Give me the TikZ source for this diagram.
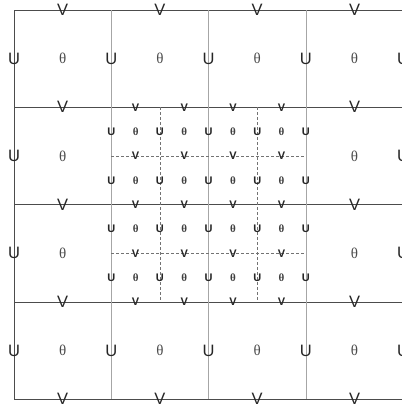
\documentclass[tikz,border=0pt]{standalone}
\usepackage{fontspec}
\setmainfont{Liberation Sans}
\newfontfamily\grk{Liberation Serif}
\usetikzlibrary{positioning}

\begin{document}
\begin{tikzpicture}[x=1pt,y=-1pt]
\tikzstyle{cu}=[inner sep=0pt,text=black!85,font=\fontsize{16.5}{17}\selectfont]
\tikzstyle{ct}=[inner sep=0pt,text=black!70,font=\grk\fontsize{15}{15}\selectfont]
\tikzstyle{fu}=[inner sep=0pt,text=black!85,font=\fontsize{11}{12}\selectfont\bfseries]
\tikzstyle{ft}=[inner sep=0pt,text=black!75,font=\grk\fontsize{11}{12}\selectfont\bfseries]
\def\cs{97.3} \def\fs{48.65}
\useasboundingbox (0,0) rectangle (402,408);
% coarse grid
\foreach \j in {0,...,4} \draw[black!70,line width=0.8pt] (14,{10+\cs*\j}) -- (402,{10+\cs*\j});
\draw[black!70,line width=0.8pt] (14,10) -- (14,{10+4*\cs});
\foreach \i in {1,2,3} \draw[black!35,line width=0.8pt] ({14+\cs*\i},10) -- ({14+\cs*\i},{10+4*\cs});
% refined block, dashed
\foreach \k in {1,3} {
  \draw[black!55,densely dashed,line width=0.4pt] ({14+\cs+\fs*\k},{10+\cs}) -- ({14+\cs+\fs*\k},{10+3*\cs});
  \draw[black!55,densely dashed,line width=0.4pt] ({14+\cs},{10+\cs+\fs*\k}) -- ({14+3*\cs},{10+\cs+\fs*\k});
}
% coarse theta
\foreach \j in {0,3} \foreach \i in {0,...,3}
  \node[ct] (t-\i-\j) at ({14+\cs*(\i+0.5)},{10+\cs*(\j+0.5)}) {θ};
\foreach \j in {1,2} \foreach \i in {0,3}
  \node[ct] (t-\i-\j) at ({14+\cs*(\i+0.5)},{10+\cs*(\j+0.5)}) {θ};
% coarse u
\foreach \j in {0,3} \foreach \i in {0,...,4}
  \node[cu] (u-\i-\j) at ({14+\cs*\i},{10+\cs*(\j+0.5)}) {U};
\foreach \j in {1,2} \foreach \i in {0,4}
  \node[cu] (u-\i-\j) at ({14+\cs*\i},{10+\cs*(\j+0.5)}) {U};
% coarse v
\foreach \j in {0,4} \foreach \i in {0,...,3}
  \node[cu] (v-\i-\j) at ({14+\cs*(\i+0.5)},{10+\cs*\j}) {V};
\foreach \j in {1,2,3} \foreach \i in {0,3}
  \node[cu] (v-\i-\j) at ({14+\cs*(\i+0.5)},{10+\cs*\j}) {V};
% fine level
\foreach \m in {0,...,3} {
  \foreach \k in {0,...,4}
    \node[fu] (fu-\k-\m) at ({14+\cs+\fs*\k},{10+\cs+\fs*(\m+0.5)}) {U};
  \foreach \k in {0,...,3}
    \node[ft] (ft-\k-\m) at ({14+\cs+\fs*(\k+0.5)},{10+\cs+\fs*(\m+0.5)}) {θ};
}
\foreach \m in {0,...,4} \foreach \k in {0,...,3}
  \node[fu] (fv-\k-\m) at ({14+\cs+\fs*(\k+0.5)},{10+\cs+\fs*\m}) {V};
\end{tikzpicture}
\end{document}
